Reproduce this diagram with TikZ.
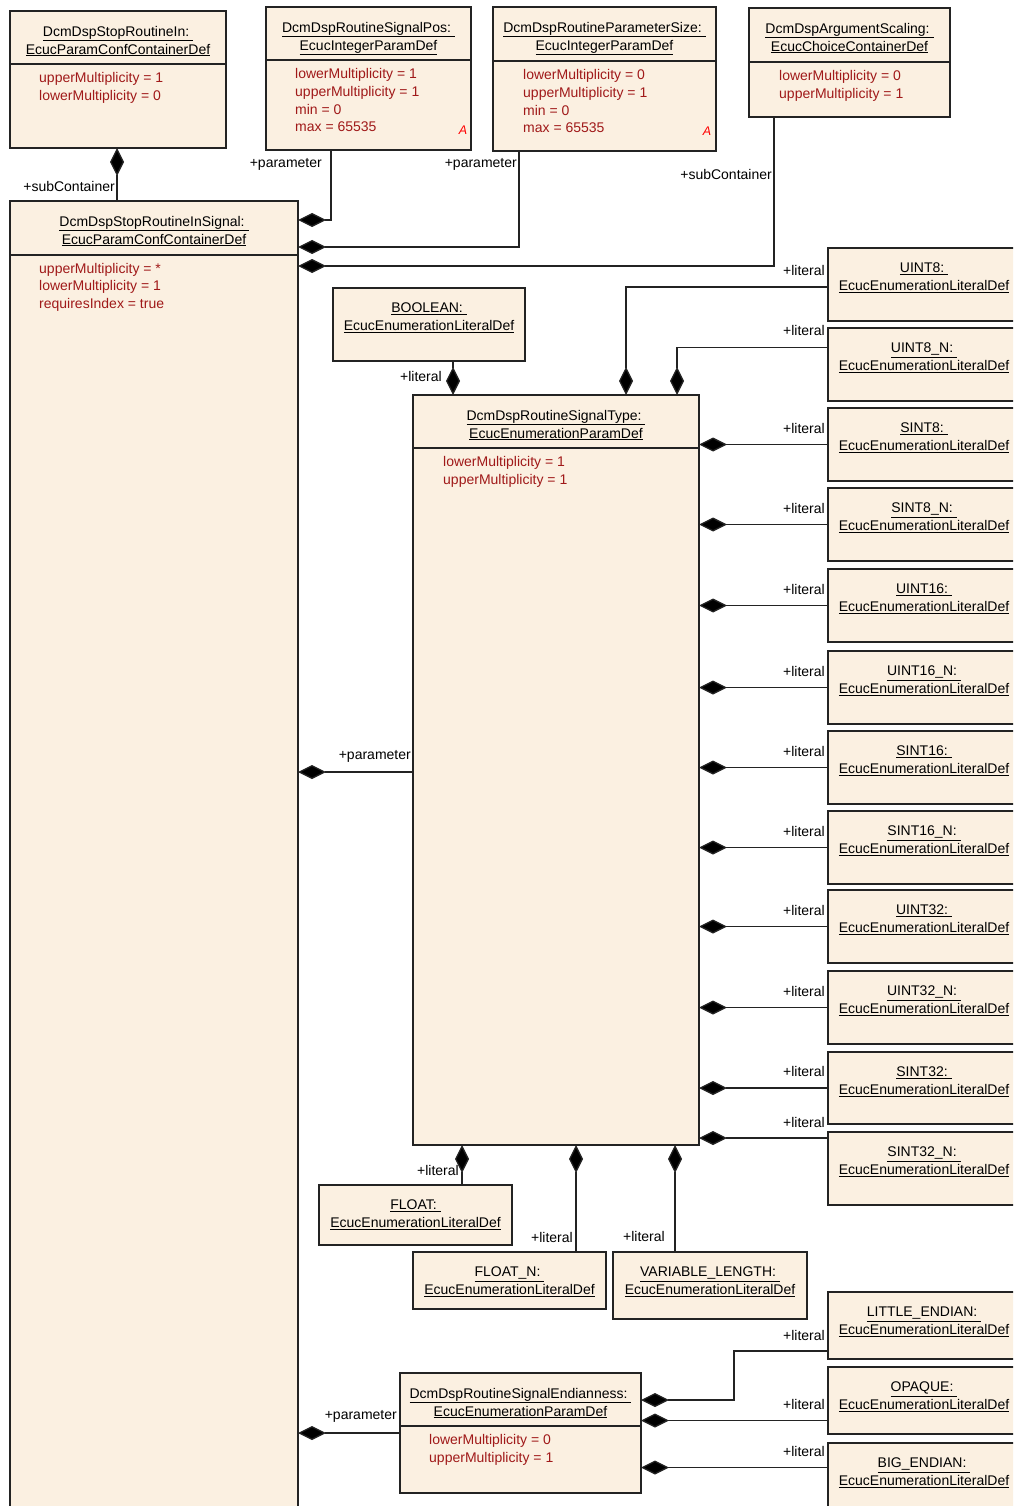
\documentclass[tikz,border=0pt]{standalone}
\usepackage{fontspec}
\setmainfont{Liberation Sans}
\usetikzlibrary{arrows.meta}
\definecolor{boxfill}{RGB}{251,240,225}
\definecolor{attrred}{RGB}{160,25,25}
\definecolor{linegray}{RGB}{35,35,35}
\newcommand\umlbox[5]{\node[box, anchor=north west, minimum width={#4-#2}, minimum height={#5-#3}] (#1) at (#2,#3) {};}
\newcommand\litbox[6]{%
  \node[box, anchor=north west, minimum width={#4-#2}, minimum height={#5-#3}] (#1) at (#2,#3) {};
  \node[title] (#1-t) at ({(#2+#4)/2},{#3+15}) {\underline{#6\ }\\\underline{EcucEnumerationLiteralDef}};}
\begin{document}
\begin{tikzpicture}[x=1pt,y=-1pt,
  box/.style={draw=linegray, line width=1.3pt, fill=boxfill, inner sep=0pt, outer sep=0pt},
  sepline/.style={draw=linegray, line width=1.3pt},
  title/.style={anchor=north, align=center, inner sep=0pt, font=\fontsize{14}{17.7}\selectfont, text=black},
  attr/.style={anchor=north west, align=left, inner sep=0pt, font=\fontsize{14}{17.6}\selectfont, text=attrred},
  lbl/.style={anchor=east, inner sep=0pt, font=\fontsize{14}{17}\selectfont, text=black},
  comp/.style={draw=linegray, line width=1.3pt, {Diamond[length=28pt,width=14pt,fill=black]}-},
  amark/.style={inner sep=0pt, font=\fontsize{12.5}{13}\selectfont\itshape, text=red}]
\useasboundingbox (0,0) rectangle (1013,1506);
\clip (0,0) rectangle (1013,1506);
\fill[white] (0,0) rectangle (1013,1506);

% ---- top row ----
\umlbox{sri}{10}{11}{226}{148}
\node[title] (sri-t) at (118,26) {\underline{DcmDspStopRoutineIn:\ }\\\underline{EcucParamConfContainerDef}};
\draw[sepline] ([yshift=-53pt]sri.north west) -- ([yshift=-53pt]sri.north east);
\node[attr] (sri-a) at (39,72.5) {upperMultiplicity = 1\\lowerMultiplicity = 0};

\umlbox{spos}{266}{7}{471}{150}
\node[title] (spos-t) at (368.5,22) {\underline{DcmDspRoutineSignalPos:\ }\\\underline{EcucIntegerParamDef}};
\draw[sepline] ([yshift=-53pt]spos.north west) -- ([yshift=-53pt]spos.north east);
\node[attr] (spos-a) at (295,68.5) {lowerMultiplicity = 1\\upperMultiplicity = 1\\min = 0\\max = 65535};
\node[amark] (spos-m) at (463,130) {A};

\umlbox{psz}{493}{7}{716}{151}
\node[title] (psz-t) at (604.5,22) {\underline{DcmDspRoutineParameterSize:\ }\\\underline{EcucIntegerParamDef}};
\draw[sepline] ([yshift=-54pt]psz.north west) -- ([yshift=-54pt]psz.north east);
\node[attr] (psz-a) at (523,69.5) {lowerMultiplicity = 0\\upperMultiplicity = 1\\min = 0\\max = 65535};
\node[amark] (psz-m) at (707,131) {A};

\umlbox{asc}{749}{8}{950}{117}
\node[title] (asc-t) at (849.5,23) {\underline{DcmDspArgumentScaling:\ }\\\underline{EcucChoiceContainerDef}};
\draw[sepline] ([yshift=-54pt]asc.north west) -- ([yshift=-54pt]asc.north east);
\node[attr] (asc-a) at (779,70.5) {lowerMultiplicity = 0\\upperMultiplicity = 1};

% ---- big container ----
\umlbox{sris}{10}{201}{298}{1525}
\node[title] (sris-t) at (154,216) {\underline{DcmDspStopRoutineInSignal:\ }\\\underline{EcucParamConfContainerDef}};
\draw[sepline] ([yshift=-54pt]sris.north west) -- ([yshift=-54pt]sris.north east);
\node[attr] (sris-a) at (39,263) {upperMultiplicity = *\\lowerMultiplicity = 1\\requiresIndex = true};

% ---- signal type ----
\litbox{bool}{333}{288}{525}{361}{BOOLEAN:}
\umlbox{sty}{413}{395}{699}{1145}
\node[title] (sty-t) at (556,410) {\underline{DcmDspRoutineSignalType:\ }\\\underline{EcucEnumerationParamDef}};
\draw[sepline] ([yshift=-53pt]sty.north west) -- ([yshift=-53pt]sty.north east);
\node[attr] (sty-a) at (443,456.5) {lowerMultiplicity = 1\\upperMultiplicity = 1};

\litbox{u8}{828}{248}{1020}{321}{UINT8:}
\litbox{u8n}{828}{328}{1020}{401}{UINT8\_N:}
\litbox{s8}{828}{408}{1020}{481}{SINT8:}
\litbox{s8n}{828}{488}{1020}{561}{SINT8\_N:}
\litbox{u16}{828}{569}{1020}{642}{UINT16:}
\litbox{u16n}{828}{651}{1020}{724}{UINT16\_N:}
\litbox{s16}{828}{731}{1020}{804}{SINT16:}
\litbox{s16n}{828}{811}{1020}{884}{SINT16\_N:}
\litbox{u32}{828}{890}{1020}{963}{UINT32:}
\litbox{u32n}{828}{971}{1020}{1044}{UINT32\_N:}
\litbox{s32}{828}{1052}{1020}{1124}{SINT32:}
\litbox{s32n}{828}{1132}{1020}{1205}{SINT32\_N:}

\litbox{flt}{319}{1185}{512}{1245}{FLOAT:}
\litbox{fltn}{413}{1252}{606}{1309}{FLOAT\_N:}
\litbox{vlen}{613}{1252}{807}{1319}{VARIABLE\_LENGTH:}

% ---- endianness ----
\umlbox{endi}{400}{1373}{641}{1493}
\node[title] (endi-t) at (520.5,1388) {\underline{DcmDspRoutineSignalEndianness:\ }\\\underline{EcucEnumerationParamDef}};
\draw[sepline] ([yshift=-53pt]endi.north west) -- ([yshift=-53pt]endi.north east);
\node[attr] (endi-a) at (429,1434.5) {lowerMultiplicity = 0\\upperMultiplicity = 1};

\litbox{le}{828}{1292}{1020}{1359}{LITTLE\_ENDIAN:}
\litbox{op}{828}{1367}{1020}{1434}{OPAQUE:}
\litbox{be}{828}{1443}{1020}{1525}{BIG\_ENDIAN:}

% ---- connectors ----
\draw[comp] ([xshift=107pt]sri.south west) coordinate (c1) -- (c1 |- sris.north);
\node[lbl] (l1) at (115,186) {+subContainer};
\draw[comp] ([yshift=-19pt]sris.north east) -| ([xshift=65pt]spos.south west);
\node[lbl] (l2) at (322,164) {+parameter};
\draw[comp] ([yshift=-46pt]sris.north east) -| ([xshift=26pt]psz.south west);
\node[lbl] (l3) at (517,164) {+parameter};
\draw[comp] ([yshift=-65pt]sris.north east) -| ([xshift=25pt]asc.south west);
\node[lbl] (l4) at (772,174) {+subContainer};

\draw[comp] ([xshift=213pt]sty.north west) |- ([yshift=-2.5pt]u8.west);
\node[lbl] (l5) at (825,270) {+literal};
\draw[comp] ([xshift=264pt]sty.north west) |- ([yshift=17pt]u8n.west);
\node[lbl] (l6) at (825,330) {+literal};
\draw[comp] ([xshift=40pt]sty.north west) coordinate (c2) -- (c2 |- bool.south);
\node[lbl] (l7) at (442,376) {+literal};

\draw[comp] (sty.east |- s8.west) -- (s8.west);
\node[lbl] (l8) at (825,428) {+literal};
\draw[comp] (sty.east |- s8n.west) -- (s8n.west);
\node[lbl] (l9) at (825,508) {+literal};
\draw[comp] (sty.east |- u16.west) -- (u16.west);
\node[lbl] (l10) at (825,589) {+literal};
\draw[comp] (sty.east |- u16n.west) -- (u16n.west);
\node[lbl] (l11) at (825,671) {+literal};
\draw[comp] (sty.east |- s16.west) -- (s16.west);
\node[lbl] (l12) at (825,751) {+literal};
\draw[comp] (sty.east |- s16n.west) -- (s16n.west);
\node[lbl] (l13) at (825,831) {+literal};
\draw[comp] (sty.east |- u32.west) -- (u32.west);
\node[lbl] (l14) at (825,910) {+literal};
\draw[comp] (sty.east |- u32n.west) -- (u32n.west);
\node[lbl] (l15) at (825,991) {+literal};
\draw[comp] (sty.east |- s32.west) -- (s32.west);
\node[lbl] (l16) at (825,1071) {+literal};
\draw[comp] ([yshift=7pt]sty.south east) coordinate (c3) -- (c3 -| s32n.west);
\node[lbl] (l17) at (825,1122) {+literal};

\draw[comp] ([yshift=-2pt]sris.east |- sty.west) -- ([yshift=-2pt]sty.west);
\node[lbl] (l18) at (411,756) {+parameter};

\draw[comp] ([xshift=49pt]sty.south west) coordinate (c4) -- (c4 |- flt.north);
\node[lbl] (l19) at (459,1170) {+literal};
\draw[comp] ([xshift=163pt]sty.south west) coordinate (c5) -- (c5 |- fltn.north);
\node[lbl] (l20) at (573,1237) {+literal};
\draw[comp] ([xshift=262pt]sty.south west) coordinate (c6) -- (c6 |- vlen.north);
\node[lbl] (l21) at (665,1236) {+literal};

\draw[comp] (sris.east |- endi.west) -- (endi.west);
\node[lbl] (l22) at (397,1416) {+parameter};
\draw[comp] ([yshift=-27pt]endi.north east) -| ([xshift=-94pt,yshift=8pt]le.south west) -- ([yshift=8pt]le.south west);
\node[lbl] (l23) at (825,1335) {+literal};
\draw[comp] ([yshift=-47.5pt]endi.north east) coordinate (c7) -- (c7 -| op.west);
\node[lbl] (l24) at (825,1404) {+literal};
\draw[comp] ([yshift=-94.5pt]endi.north east) coordinate (c8) -- (c8 -| be.west);
\node[lbl] (l25) at (825,1451) {+literal};
\end{tikzpicture}
\end{document}
